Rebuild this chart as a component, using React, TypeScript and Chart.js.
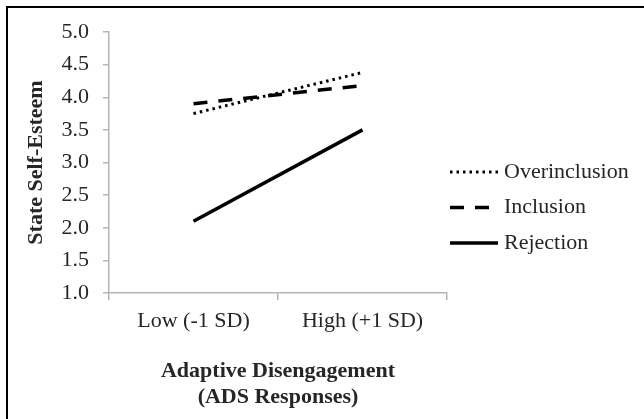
import React, { useEffect, useRef } from "react";
import { Chart, registerables } from "chart.js";

Chart.register(...registerables);

const categories = ["Low (-1 SD)", "High (+1 SD)"];
const seriesNames = ["Overinclusion", "Inclusion", "Rejection"];
const overinclusion = [3.75, 4.38];
const inclusion = [3.9, 4.18];
const rejection = [2.1, 3.5];
const yTitle = "State Self-Esteem";
const xTitle = ["Adaptive Disengagement", "(ADS Responses)"];

const FONT = "'Liberation Serif', 'Times New Roman', serif";
const TEXT = "#262626";
const AXIS = "#b5b5b5";

const legendPlugin = {
  id: "sideLegend",
  afterDraw(chart: any) {
    const ctx = chart.ctx;
    const x0 = 450;
    const lineLen = 48;
    const ys = [172, 207.5, 243];
    ctx.save();
    chart.data.datasets.forEach((ds: any, i: number) => {
      const y = ys[i];
      ctx.beginPath();
      ctx.setLineDash(ds.borderDash || []);
      ctx.lineWidth = ds.borderWidth;
      ctx.strokeStyle = ds.borderColor;
      ctx.lineCap = "butt";
      ctx.moveTo(x0, y);
      ctx.lineTo(x0 + lineLen, y);
      ctx.stroke();
      ctx.setLineDash([]);
      ctx.fillStyle = TEXT;
      ctx.font = `22px ${FONT}`;
      ctx.textBaseline = "middle";
      ctx.textAlign = "left";
      ctx.fillText(ds.label, x0 + lineLen + 6, y);
    });
    ctx.restore();
  },
};

export default function App() {
  const ref = useRef<HTMLCanvasElement | null>(null);
  useEffect(() => {
    if (!ref.current) return;
    const chart = new Chart(ref.current, {
      type: "line",
      data: {
        labels: categories,
        datasets: [
          {
            label: seriesNames[0],
            data: overinclusion,
            borderColor: "#000",
            borderWidth: 3,
            borderDash: [2.5, 4],
            pointRadius: 0,
            fill: false,
          },
          {
            label: seriesNames[1],
            data: inclusion,
            borderColor: "#000",
            borderWidth: 3.5,
            borderDash: [14, 11],
            pointRadius: 0,
            fill: false,
          },
          {
            label: seriesNames[2],
            data: rejection,
            borderColor: "#000",
            borderWidth: 3.5,
            pointRadius: 0,
            fill: false,
          },
        ],
      },
      options: {
        animation: false,
        responsive: false,
        devicePixelRatio: 1,
        layout: { padding: { top: 32, right: 197, bottom: 0, left: 0 } },
        plugins: { legend: { display: false }, tooltip: { enabled: false } },
        scales: {
          x: {
            offset: true,
            afterFit: (s: any) => {
              s.height = 126;
            },
            grid: {
              offset: true,
              drawOnChartArea: false,
              drawTicks: true,
              tickLength: 7,
              color: AXIS,
              lineWidth: 1.5,
            },
            border: { display: true, color: AXIS, width: 1.5 },
            ticks: {
              color: TEXT,
              font: { family: FONT, size: 22 },
              padding: 8,
              maxRotation: 0,
            },
            title: {
              display: true,
              text: xTitle,
              color: TEXT,
              font: { family: FONT, size: 22, weight: "bold", lineHeight: 1.18 },
              padding: { top: 0, bottom: 9 },
            },
          },
          y: {
            min: 1,
            max: 5,
            afterFit: (s: any) => {
              s.width = 109;
            },
            grid: {
              drawOnChartArea: false,
              drawTicks: true,
              tickLength: 6,
              color: AXIS,
              lineWidth: 1.5,
            },
            border: { display: true, color: AXIS, width: 1.5 },
            ticks: {
              stepSize: 0.5,
              color: TEXT,
              font: { family: FONT, size: 22 },
              padding: 14,
              callback: (v: any) => Number(v).toFixed(1),
            },
            title: {
              display: true,
              text: yTitle,
              color: TEXT,
              font: { family: FONT, size: 22, weight: "bold" },
              padding: { top: 23, bottom: 0 },
            },
          },
        },
      },
      plugins: [legendPlugin],
    });
    return () => chart.destroy();
  }, []);

  return (
    <div style={{ position: "absolute", left: 0, top: 0, width: 644, height: 419, background: "#fff" }}>
      <div
        style={{
          position: "absolute",
          left: 6,
          top: 6,
          width: 640,
          height: 415,
          borderLeft: "2px solid #000",
          borderTop: "2px solid #000",
          boxSizing: "border-box",
        }}
      />
      <canvas ref={ref} width={644} height={419} style={{ position: "absolute", left: 0, top: 0 }} />
    </div>
  );
}
